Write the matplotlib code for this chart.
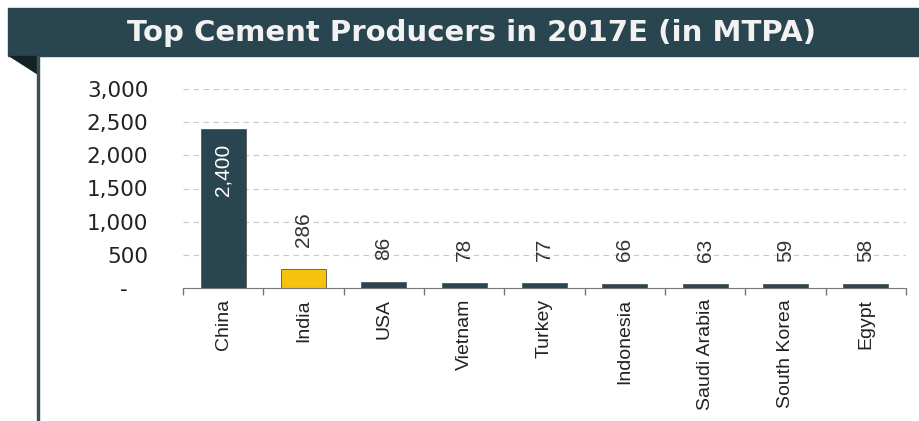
import matplotlib
matplotlib.use('Agg')
import matplotlib.pyplot as plt
from matplotlib.patches import Rectangle, Polygon
from matplotlib.ticker import FuncFormatter

# data
countries = ['China', 'India', 'USA', 'Vietnam', 'Turkey', 'Indonesia',
             'Saudi Arabia', 'South Korea', 'Egypt']
capacity = [2400, 286, 86, 78, 77, 66, 63, 59, 58]
highlight = 'India'
y_ticks = [0, 500, 1000, 1500, 2000, 2500, 3000]

DARK = '#29454f'
YELLOW = '#f7c20c'

plt.rcParams['font.family'] = ['Liberation Sans', 'DejaVu Sans']

W, H = 919, 421
fig = plt.figure(figsize=(W / 100, H / 100), dpi=100)

# title banner, little fold triangle and left border line
fig.patches.append(Rectangle((8 / W, 1 - 56 / H), 1 - 8 / W, 48 / H,
                             transform=fig.transFigure, color=DARK))
fig.patches.append(Polygon([(10 / W, 1 - 56 / H), (38 / W, 1 - 56 / H), (38 / W, 1 - 74 / H)],
                           transform=fig.transFigure, color='#142228'))
fig.patches.append(Rectangle((36.5 / W, 0), 2.5 / W, 1 - 56 / H,
                             transform=fig.transFigure, color='#3d4f55'))
fig.text(471 / W, 1 - 33 / H, 'Top Cement Producers in 2017E (in MTPA)', color='#f2f2f2',
         fontsize=21, fontweight='bold', ha='center', va='center', family='DejaVu Sans')

ax = fig.add_axes([183 / W, 133 / H, (906 - 183) / W, 199 / H])
x = range(len(countries))
colors = [YELLOW if c == highlight else DARK for c in countries]
bars = ax.bar(x, capacity, width=0.56, color=colors, edgecolor='#555555', linewidth=0.6)

for b, v in zip(bars, capacity):
    cx = b.get_x() + b.get_width() / 2
    if v > 1000:
        ax.annotate(f'{v:,}', (cx, v), xytext=(0, -11), textcoords='offset points',
                    rotation=90, ha='center', va='top', color='white', fontsize=15)
    else:
        ax.annotate(f'{v:,}', (cx, v), xytext=(0, 16), textcoords='offset points',
                    rotation=90, ha='center', va='bottom', color='#333333', fontsize=15)

ax.set_xlim(-0.5, len(countries) - 0.5)
ax.set_ylim(0, 3000)
ax.set_yticks(y_ticks)
ax.yaxis.set_major_formatter(FuncFormatter(lambda v, p: '-   ' if v == 0 else f'{int(v):,}'))
ax.tick_params(axis='y', length=0, pad=25, labelcolor='#222222')
for t in ax.get_yticklabels():
    t.set_horizontalalignment('right')
    t.set_fontfamily('DejaVu Sans')
    t.set_fontsize(15.5)

ax.set_xticks(list(x))
ax.set_xticklabels(countries, rotation=90, fontsize=14, color='#222222')
ax.tick_params(axis='x', length=0, pad=8)
# boundary tick marks on the category axis
ax.set_xticks([i - 0.5 for i in range(len(countries) + 1)], minor=True)
ax.tick_params(axis='x', which='minor', length=5, color='#777777', width=1)

for s in ['top', 'right', 'left']:
    ax.spines[s].set_visible(False)
ax.spines['bottom'].set_color('#777777')
ax.yaxis.grid(True, linestyle=(0, (5, 4)), color='#c8c8c8', linewidth=0.8)
ax.set_axisbelow(True)
for gl in ax.yaxis.get_gridlines()[:1]:
    gl.set_visible(False)

fig.savefig('out.png', dpi=100)
